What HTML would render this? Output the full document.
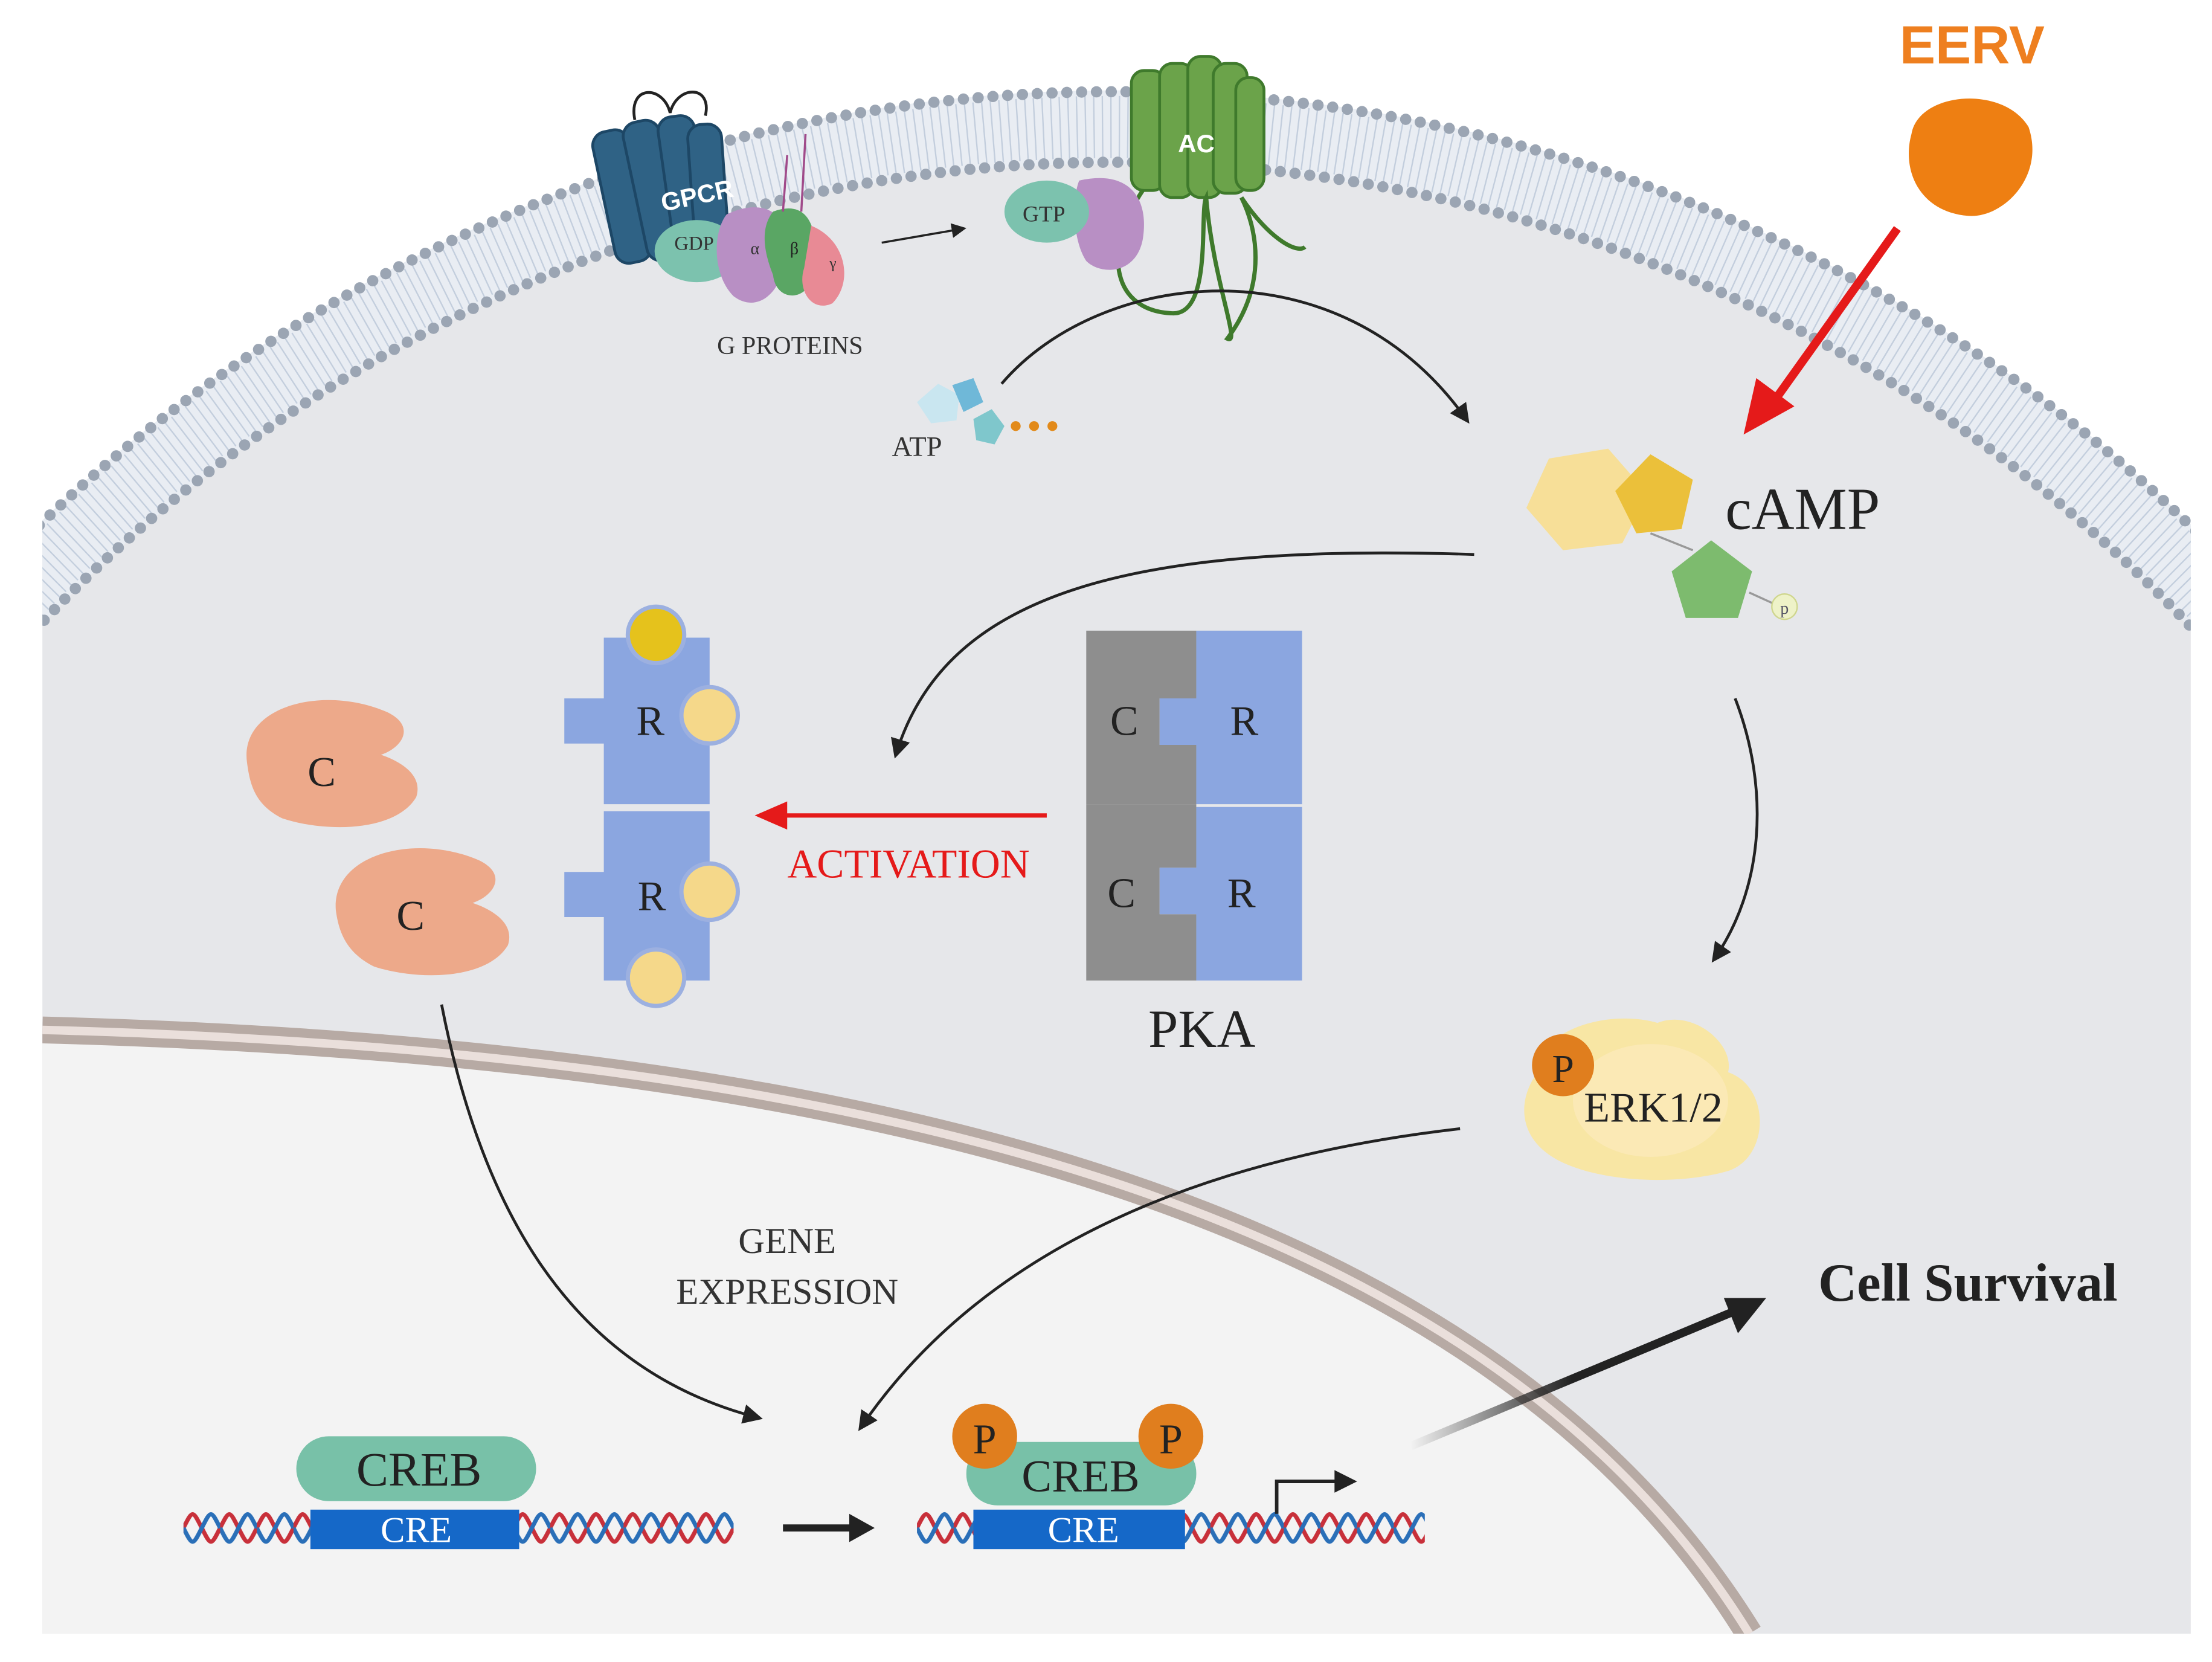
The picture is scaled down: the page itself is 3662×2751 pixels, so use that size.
<!DOCTYPE html>
<html><head><meta charset="utf-8"><style>
html,body{margin:0;padding:0;background:#fff;width:3662px;height:2751px;overflow:hidden}
svg{display:block}
text{font-family:"Liberation Serif",serif}
</style></head><body>
<svg width="3662" height="2751" viewBox="0 0 1568 1178" xmlns="http://www.w3.org/2000/svg" style="overflow:hidden">
<defs>
<clipPath id="cr"><rect x="30" y="0" width="1523" height="1158"/></clipPath>
<pattern id="dnaL" x="0" y="1068" width="26" height="30" patternUnits="userSpaceOnUse">
<path d="M0,15 C6.5,2 6.5,2 13,15 S19.5,28 26,15" fill="none" stroke="#c8303a" stroke-width="3"/>
<path d="M0,15 C6.5,28 6.5,28 13,15 S19.5,2 26,15" fill="none" stroke="#2a6fb8" stroke-width="3"/>
</pattern>
<linearGradient id="cs" x1="0" y1="0" x2="1" y2="0"><stop offset="0" stop-color="#222" stop-opacity="0"/><stop offset="0.5" stop-color="#222"/><stop offset="1" stop-color="#222"/></linearGradient>
<marker id="ah" viewBox="0 0 10 10" refX="8" refY="5" markerWidth="7" markerHeight="7" orient="auto"><path d="M0,0 L10,5 L0,10 Z" fill="#222"/></marker>
</defs>
<rect width="1568" height="1178" fill="#fff"/>
<g clip-path="url(#cr)">
<circle cx="790" cy="1164" r="1099" fill="#e6e7ea"/>
<circle cx="790" cy="1164" r="1074" fill="none" stroke="#e9edf3" stroke-width="52"/>
<circle cx="790" cy="1164" r="1074" fill="none" stroke="#c3cedd" stroke-width="44" stroke-dasharray="1 5"/>
<circle cx="790" cy="1164" r="1099" fill="none" stroke="#9ba5b3" stroke-width="8" stroke-dasharray="0 10.5" stroke-linecap="round"/>
<circle cx="790" cy="1164" r="1049" fill="none" stroke="#9ba5b3" stroke-width="8" stroke-dasharray="0 10.5" stroke-linecap="round"/>
<path d="M30,730 C600,745 1050,850 1240,1158 L30,1158 Z" fill="#f3f3f3"/>
<path d="M30,730 C600,745 1050,850 1240,1158" fill="none" stroke="#b7aaa4" stroke-width="19"/>
<path d="M30,730 C600,745 1050,850 1240,1158" fill="none" stroke="#eadfdb" stroke-width="6"/>
</g>
<!-- EERV -->
<text x="1398" y="45" font-weight="bold" font-size="38" fill="#ee7f1f" text-anchor="middle" style="font-family:'Liberation Sans',sans-serif">EERV</text>
<path d="M1355,95 C1360,65 1420,60 1438,90 C1450,125 1420,155 1395,153 C1360,150 1348,120 1355,95 Z" fill="#ee7f12"/>
<line x1="1345" y1="162" x2="1255" y2="288" stroke="#e51a1a" stroke-width="6"/>
<path d="M1236,308 L1245,268 L1272,288 Z" fill="#e51a1a"/>
<!-- cAMP -->
<polygon points="1098,325 1140,318 1168,350 1150,385 1108,390 1082,360" fill="#f7df98"/>
<polygon points="1170,322 1200,340 1192,375 1160,378 1145,348" fill="#ebc03a"/>
<polygon points="1213,383 1242,405 1232,438 1195,438 1185,405" fill="#7dbb6e"/>
<line x1="1170" y1="378" x2="1200" y2="390" stroke="#999" stroke-width="1.5"/>
<line x1="1240" y1="420" x2="1262" y2="430" stroke="#999" stroke-width="1.5"/>
<circle cx="1265" cy="430" r="9" fill="#eef2c8" stroke="#cfd68e"/>
<text x="1265" y="435" font-size="12" text-anchor="middle" fill="#556">p</text>
<text x="1223" y="375" font-size="42" fill="#222">cAMP</text>
<!-- GPCR -->
<g fill="#2f6285" stroke="#1d4766" stroke-width="2">
<rect x="428" y="92" width="26" height="95" rx="10" transform="rotate(-12 440 140)"/>
<rect x="450" y="85" width="26" height="100" rx="10" transform="rotate(-12 463 135)"/>
<rect x="472" y="82" width="26" height="100" rx="10" transform="rotate(-8 485 132)"/>
<rect x="490" y="88" width="24" height="92" rx="10" transform="rotate(-4 502 134)"/>
</g>
<path d="M450,85 C445,60 470,60 475,80 C480,60 505,60 500,82" fill="none" stroke="#222" stroke-width="2"/>
<text x="470" y="150" font-size="18" font-weight="bold" fill="#fff" transform="rotate(-12 470 150)" style="font-family:'Liberation Sans',sans-serif">GPCR</text>
<ellipse cx="494" cy="178" rx="30" ry="22" fill="#7cc2ae"/>
<text x="492" y="177" font-size="14" fill="#333" text-anchor="middle">GDP</text>
<path d="M515,152 C540,140 560,150 555,175 C560,200 540,225 520,210 C505,195 505,165 515,152Z" fill="#b88fc4"/>
<text x="532" y="180" font-size="12" fill="#333">α</text>
<path d="M548,150 C575,140 580,165 578,190 C575,215 550,215 548,195 C540,175 540,160 548,150Z" fill="#5aa664"/>
<text x="560" y="180" font-size="12" fill="#222">β</text>
<path d="M575,160 C600,170 605,200 590,215 C575,222 565,205 570,190Z" fill="#e88a95"/>
<text x="588" y="190" font-size="11" fill="#333">γ</text>
<path d="M555,150 l3,-40 M568,150 l3,-55" stroke="#a04a8a" stroke-width="1.5"/>
<text x="560" y="251" font-size="18" fill="#333" text-anchor="middle">G PROTEINS</text>
<line x1="625" y1="172" x2="683" y2="162" stroke="#222" stroke-width="1.5" marker-end="url(#ah)"/>
<!-- AC -->
<g fill="#6ba34a" stroke="#3f7a2c" stroke-width="2">
<rect x="802" y="50" width="24" height="85" rx="9"/>
<rect x="822" y="45" width="24" height="95" rx="9"/>
<rect x="842" y="40" width="24" height="100" rx="9"/>
<rect x="860" y="45" width="24" height="92" rx="9"/>
<rect x="876" y="55" width="20" height="80" rx="9"/>
</g>
<text x="848" y="108" font-size="18" font-weight="bold" fill="#fff" text-anchor="middle" style="font-family:'Liberation Sans',sans-serif">AC</text>
<path d="M810,135 C780,180 790,220 830,222 C860,225 850,150 855,140 C860,200 880,245 870,240 C900,200 890,160 880,140 C900,170 920,180 925,175" fill="none" stroke="#3f7a2c" stroke-width="3"/>
<path d="M765,128 C800,120 815,140 810,170 C805,195 780,195 770,185 C760,170 760,140 765,128Z" fill="#b88fc4"/>
<ellipse cx="742" cy="150" rx="30" ry="22" fill="#7cc2ae"/>
<text x="740" y="157" font-size="16" fill="#333" text-anchor="middle">GTP</text>
<!-- ATP -->
<polygon points="650,285 665,272 680,280 678,298 660,300" fill="#c9e6f0"/>
<polygon points="675,273 690,268 697,285 683,292" fill="#6fb8d8"/>
<polygon points="690,297 703,290 712,302 705,315 692,312" fill="#7fc7cc"/>
<circle cx="720" cy="302" r="3.5" fill="#e28a1a"/><circle cx="733" cy="302" r="3.5" fill="#e28a1a"/><circle cx="746" cy="302" r="3.5" fill="#e28a1a"/>
<text x="650" y="323" font-size="20" fill="#333" text-anchor="middle">ATP</text>
<!-- curves -->
<g fill="none" stroke="#222" stroke-width="2" marker-end="url(#ah)">
<path d="M710,272 C780,190 950,170 1040,298"/>
<path d="M1045,393 C800,385 670,420 635,535"/>
<path d="M1230,495 C1255,560 1250,630 1215,680"/>
<path d="M313,712 C340,850 400,970 538,1005"/>
<path d="M1035,800 C860,820 700,880 610,1012"/>
</g>
<!-- PKA -->
<path d="M770,447 H848 V495 H822 V528 H848 V570 H770 Z" fill="#8e8e8e"/>
<path d="M770,570 H848 V615 H822 V648 H848 V695 H770 Z" fill="#8e8e8e"/>
<path d="M848,447 H923 V570 H848 V528 H822 V495 H848 Z" fill="#8ba6e0"/>
<path d="M848,572 H923 V695 H848 V648 H822 V615 H848 Z" fill="#8ba6e0"/>
<text x="797" y="521" font-size="30" fill="#222" text-anchor="middle">C</text>
<text x="882" y="521" font-size="30" fill="#222" text-anchor="middle">R</text>
<text x="795" y="643" font-size="30" fill="#222" text-anchor="middle">C</text>
<text x="880" y="643" font-size="30" fill="#222" text-anchor="middle">R</text>
<text x="852" y="742" font-size="38" fill="#222" text-anchor="middle">PKA</text>
<line x1="742" y1="578" x2="555" y2="578" stroke="#e51a1a" stroke-width="3"/>
<path d="M535,578 L558,568 L558,588 Z" fill="#e51a1a"/>
<text x="644" y="622" font-size="29" fill="#e51a1a" text-anchor="middle">ACTIVATION</text>
<!-- released R -->
<path d="M428,452 H503 V570 H428 V527 H400 V495 H428 Z" fill="#8ba6e0"/>
<path d="M428,575 H503 V695 H428 V650 H400 V618 H428 Z" fill="#8ba6e0"/>
<circle cx="465" cy="450" r="20" fill="#e5c21c" stroke="#9cb0e0" stroke-width="3"/>
<circle cx="503" cy="507" r="20" fill="#f5d88a" stroke="#9cb0e0" stroke-width="3"/>
<circle cx="503" cy="632" r="20" fill="#f5d88a" stroke="#9cb0e0" stroke-width="3"/>
<circle cx="465" cy="693" r="20" fill="#f5d88a" stroke="#9cb0e0" stroke-width="3"/>
<text x="461" y="521" font-size="30" fill="#222" text-anchor="middle">R</text>
<text x="462" y="645" font-size="30" fill="#222" text-anchor="middle">R</text>
<!-- C -->
<path d="M175,540 C170,500 230,485 275,505 C295,515 285,530 270,535 C285,540 300,550 295,565 C280,590 230,590 200,580 C180,570 177,555 175,540Z" fill="#eda98a"/>
<text x="228" y="557" font-size="30" fill="#222" text-anchor="middle">C</text>
<path d="M238,645 C235,605 295,590 340,610 C360,620 350,635 335,640 C350,645 365,655 360,670 C345,695 295,695 265,685 C245,675 240,660 238,645Z" fill="#eda98a"/>
<text x="291" y="659" font-size="30" fill="#222" text-anchor="middle">C</text>
<!-- ERK -->
<path d="M1090,760 C1090,730 1140,715 1175,725 C1200,715 1230,740 1225,760 C1255,770 1255,820 1225,830 C1190,840 1140,838 1110,825 C1075,810 1075,780 1090,760Z" fill="#f8e6a4"/>
<ellipse cx="1170" cy="780" rx="55" ry="40" fill="#fbe9b5"/>
<circle cx="1108" cy="755" r="22" fill="#e07e1e"/>
<text x="1108" y="767" font-size="28" fill="#222" text-anchor="middle">P</text>
<text x="1172" y="795" font-size="30" fill="#222" text-anchor="middle">ERK1/2</text>
<!-- gene expression -->
<text x="558" y="888" font-size="26" fill="#333" text-anchor="middle">GENE</text>
<text x="558" y="924" font-size="26" fill="#333" text-anchor="middle">EXPRESSION</text>
<!-- DNA left -->
<rect x="130" y="1068" width="390" height="30" fill="url(#dnaL)"/>
<rect x="220" y="1070" width="148" height="28" fill="#1568c8"/>
<text x="295" y="1093" font-size="26" fill="#fff" text-anchor="middle">CRE</text>
<rect x="210" y="1018" width="170" height="46" rx="23" fill="#78c1a8"/>
<text x="297" y="1053" font-size="34" fill="#222" text-anchor="middle">CREB</text>
<line x1="555" y1="1083" x2="605" y2="1083" stroke="#222" stroke-width="5"/>
<path d="M620,1083 L602,1073 L602,1093 Z" fill="#222"/>
<!-- DNA right -->
<rect x="650" y="1068" width="360" height="30" fill="url(#dnaL)"/>
<rect x="690" y="1070" width="150" height="28" fill="#1568c8"/>
<text x="768" y="1093" font-size="26" fill="#fff" text-anchor="middle">CRE</text>
<rect x="685" y="1022" width="163" height="45" rx="22" fill="#78c1a8"/>
<text x="766" y="1057" font-size="32" fill="#222" text-anchor="middle">CREB</text>
<circle cx="698" cy="1018" r="23" fill="#e07e1e"/>
<text x="698" y="1030" font-size="30" fill="#222" text-anchor="middle">P</text>
<circle cx="830" cy="1018" r="23" fill="#e07e1e"/>
<text x="830" y="1030" font-size="30" fill="#222" text-anchor="middle">P</text>
<path d="M905,1073 V1050 H948" fill="none" stroke="#222" stroke-width="2.5"/>
<path d="M962,1050 L946,1042 L946,1058 Z" fill="#222"/>
<!-- cell survival -->
<line x1="1000" y1="1025" x2="1228" y2="930" stroke="url(#cs)" stroke-width="6"/>
<path d="M1252,920 L1222,920 L1232,945 Z" fill="#222"/>
<text x="1395" y="922" font-size="38" font-weight="bold" fill="#222" text-anchor="middle">Cell Survival</text>
</svg>
</body></html>
